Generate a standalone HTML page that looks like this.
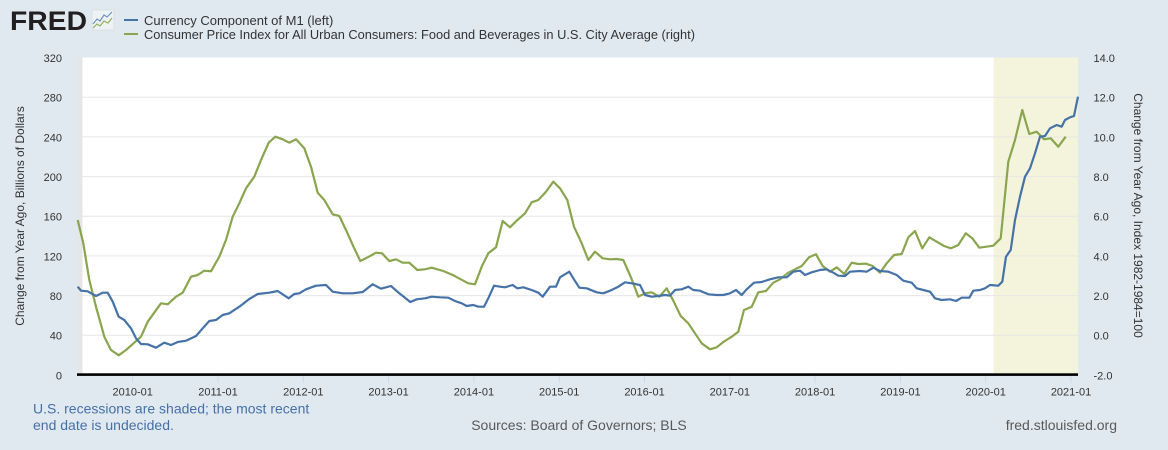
<!DOCTYPE html>
<html><head><meta charset="utf-8"><style>
html,body{margin:0;padding:0;background:#e1e9f0;}
svg{display:block;font-family:"Liberation Sans",Arial,sans-serif;}
</style></head><body>
<svg width="1168" height="450" viewBox="0 0 1168 450" xmlns="http://www.w3.org/2000/svg">
<rect x="0" y="0" width="1168" height="450" fill="#e1e9f0"/>
<!-- logo -->
<text x="10" y="30" font-size="27" font-weight="bold" fill="#231f20" textLength="77" lengthAdjust="spacingAndGlyphs">FRED</text>
<rect x="92" y="10" width="22" height="20" fill="#eef2f5" stroke="#c9d3dc" stroke-width="0.5"/>
<polyline points="93,24 97,19 100,21 104,15 107,17 112,12" fill="none" stroke="#6f95c3" stroke-width="1.2"/>
<polyline points="93,28 97,24 100,26 104,21 108,23 112,18" fill="none" stroke="#8fb05a" stroke-width="1.2"/>
<!-- legend -->
<line x1="124" y1="20" x2="138" y2="20" stroke="#4572a7" stroke-width="2"/>
<line x1="124" y1="34" x2="138" y2="34" stroke="#89a54e" stroke-width="2"/>
<text x="144" y="25" font-size="13" fill="#333">Currency Component of M1 (left)</text>
<text x="144" y="39" font-size="13" fill="#333" textLength="551" lengthAdjust="spacingAndGlyphs">Consumer Price Index for All Urban Consumers: Food and Beverages in U.S. City Average (right)</text>
<!-- plot area -->
<rect x="77" y="57.5" width="1001" height="317.5" fill="#ffffff"/>
<rect x="77" y="57.5" width="5.5" height="317.5" fill="#e6e6e6"/>
<rect x="993.5" y="57.5" width="84.5" height="317.5" fill="#f4f4dc"/>
<g stroke="#e6e6e6" stroke-width="1">
<line x1="77" y1="335.3" x2="1078" y2="335.3"/>
<line x1="77" y1="295.6" x2="1078" y2="295.6"/>
<line x1="77" y1="255.9" x2="1078" y2="255.9"/>
<line x1="77" y1="216.2" x2="1078" y2="216.2"/>
<line x1="77" y1="176.6" x2="1078" y2="176.6"/>
<line x1="77" y1="136.9" x2="1078" y2="136.9"/>
<line x1="77" y1="97.2" x2="1078" y2="97.2"/>
</g>
<!-- ticks -->
<g stroke="#ccd6eb" stroke-width="1">
<line x1="132.7" y1="375" x2="132.7" y2="383"/>
<line x1="218" y1="375" x2="218" y2="383"/>
<line x1="303.3" y1="375" x2="303.3" y2="383"/>
<line x1="388.6" y1="375" x2="388.6" y2="383"/>
<line x1="473.9" y1="375" x2="473.9" y2="383"/>
<line x1="559.2" y1="375" x2="559.2" y2="383"/>
<line x1="644.5" y1="375" x2="644.5" y2="383"/>
<line x1="729.8" y1="375" x2="729.8" y2="383"/>
<line x1="815.1" y1="375" x2="815.1" y2="383"/>
<line x1="900.4" y1="375" x2="900.4" y2="383"/>
<line x1="985.7" y1="375" x2="985.7" y2="383"/>
<line x1="1071" y1="375" x2="1071" y2="383"/>
</g>
<!-- series -->
<polyline fill="none" stroke="#89a54e" stroke-width="2.2" stroke-linejoin="round" points="77.7,220 83.3,243.3 89.3,280 96,306.7 104.3,336.7 111,350 118.7,355.3 126,350 141,336.7 147.7,321.7 161,303.3 167.7,304.3 176,296.7 182.7,292.7 191,276.7 197.7,275 204.3,270.7 211,271.3 219.3,256.7 226,240 232.7,216.7 239.3,203.3 246,188.3 254.3,176.7 261,160 268.7,142.7 275.3,136.7 282.7,139.3 289.3,142.7 296,139.3 304.3,148.3 311,166.7 317.7,192.7 324.3,200 332.7,214.3 339.3,216 346,230 352.7,245 360.3,261 367.7,257.3 376,252.7 382,253.3 389.3,261 396,259.3 402.7,262.7 409.3,262.7 417.3,270 425,269.3 431.7,267.7 443.3,271 453.3,275.3 468.3,283.3 475,284.3 481.7,266.7 488.3,253.3 496,247.3 502.7,221 510,227.3 516.7,220.7 525,213.3 531.7,202.3 538.3,200 546,191.7 553.3,181.7 560,188.3 567.3,200 574,226.7 581.7,243.3 588.3,260 595,251.7 602.7,258.3 610,259.3 616.7,259 623.3,260 630.7,276.7 638.3,296.7 645,293.3 651.7,292.3 659.3,296.7 666.7,288.3 673.3,300.7 680.7,316 688.3,323.3 695,333.3 701.7,343.3 710,349.3 716.7,347.3 723.3,342 731.7,336.7 738.3,331.7 744,310 751.7,306.7 758.3,292.3 766,291 773.3,282.7 780,279.3 788.3,272.7 801.7,266 809,257.3 816,254.3 822.7,266 830,271.7 836.7,267.3 844.3,274 851.7,262.7 858.3,264 866,263.7 872.7,266 880,272.7 886.7,263.3 894,255 901.7,254 908.3,237.3 915,231 922.3,248.3 929.3,237.3 936.7,241.7 944,246 951,248.3 958.3,245 965.7,233.3 972.3,238.3 979.3,247.7 993.3,245.7 1000.7,238.3 1008.3,161.7 1015,140 1022.3,110 1029.3,134 1036.7,131.7 1044,139.3 1050.7,138.3 1058.3,146.7 1065.7,136.7"/>
<polyline fill="none" stroke="#4572a7" stroke-width="2.2" stroke-linejoin="round" points="77.7,286.7 81,290.7 87.7,291.3 96,296 102.7,292.7 107.7,292.7 112.7,301.7 118.7,316.7 124.3,320 131,328.3 136,338.3 141,344 147.7,344.3 156,347.7 164.3,342.7 171,345 177.7,342 186,340.7 196,336 202.7,328.3 209.3,321 216,320 222.7,315 229.3,313.3 239.3,306.7 249.3,299 257.7,294 269.3,292.7 277.7,291 288.7,298.3 294.3,294 299.3,293.3 306,289.3 316,285.7 326,285 332.7,291.7 342.7,293.3 352.7,293.3 362.7,292 372.7,284.3 381,288.7 391,286 399.3,293.3 410.3,302 416.7,299.3 425,298.3 431.7,296.7 440,297.3 448.3,297.7 455,301 461.7,303.3 466.7,306 473.3,305 478.3,306.7 484,306.7 488.3,298.3 494,285.7 500,286.7 505,287.3 512.7,285 517.3,288.3 523.3,287.3 531.7,290 538.3,292.7 542.7,296.7 550,286.7 556,286.7 560,277.3 569.3,271.7 573.3,278.3 579.3,287.7 586.7,288.3 596.7,292.3 603.3,293.3 610,290.7 618.3,286.7 625,282.3 631.7,283.3 640,285 645,295 651.7,296.7 658.3,296 665,295 670,295.7 675,290 681.7,289.3 688.3,286.7 693.3,290 700,290.7 708.3,294.3 716.7,295 723.3,295 730,293.3 736,290 741.7,295 746.7,289.3 754,282.7 761.7,282 770,279.3 778.3,277.3 786.7,277.3 793.3,271.7 800,270.7 805,275 811.7,272.3 820,270 826.7,269.3 833.3,272.7 838.3,275.7 845,276 850,271.7 860,271 866.7,271.7 873.3,267.7 880,271 888.3,271.7 896.7,275 903.3,280.7 911.7,282.7 916.7,288.3 923.3,290 930,291.7 935,298.3 941.7,300 950,299.3 956,301 961.7,297.7 969.3,297.7 973.3,290.7 980,290 985,288.3 990,285 998.3,285.7 1002.3,281.7 1006,256.7 1010.7,250 1015,220 1020,196.7 1025,176.7 1030,168.3 1035,153.3 1040,136.7 1045,136 1050,128.3 1056.7,125 1061.7,126.7 1065,120 1070,117.3 1074,116 1078,96.7"/>
<!-- axis line -->
<rect x="77" y="373.3" width="1001" height="2.6" fill="#000"/>
<!-- left labels -->
<g font-size="11" fill="#333" text-anchor="end">
<text x="62" y="62">320</text>
<text x="62" y="101.5">280</text>
<text x="62" y="141.3">240</text>
<text x="62" y="181">200</text>
<text x="62" y="220.6">160</text>
<text x="62" y="260.3">120</text>
<text x="62" y="300">80</text>
<text x="62" y="339.7">40</text>
<text x="62" y="379.4">0</text>
</g>
<!-- right labels -->
<g font-size="11" fill="#333">
<text x="1093.5" y="62">14.0</text>
<text x="1093.5" y="101.5">12.0</text>
<text x="1093.5" y="141.3">10.0</text>
<text x="1093.5" y="181">8.0</text>
<text x="1093.5" y="220.6">6.0</text>
<text x="1093.5" y="260.3">4.0</text>
<text x="1093.5" y="300">2.0</text>
<text x="1093.5" y="339.7">0.0</text>
<text x="1093.5" y="379.4">-2.0</text>
</g>
<!-- x labels -->
<g font-size="11" fill="#333" text-anchor="middle">
<text x="132.7" y="395.5">2010-01</text>
<text x="218" y="395.5">2011-01</text>
<text x="303.3" y="395.5">2012-01</text>
<text x="388.6" y="395.5">2013-01</text>
<text x="473.9" y="395.5">2014-01</text>
<text x="559.2" y="395.5">2015-01</text>
<text x="644.5" y="395.5">2016-01</text>
<text x="729.8" y="395.5">2017-01</text>
<text x="815.1" y="395.5">2018-01</text>
<text x="900.4" y="395.5">2019-01</text>
<text x="985.7" y="395.5">2020-01</text>
<text x="1071" y="395.5">2021-01</text>
</g>
<!-- axis titles -->
<text transform="translate(24,216) rotate(-90)" font-size="12" fill="#333" text-anchor="middle">Change from Year Ago, Billions of Dollars</text>
<text transform="translate(1134,215.5) rotate(90)" font-size="12" fill="#333" text-anchor="middle">Change from Year Ago, Index 1982-1984=100</text>
<!-- footer -->
<text x="33" y="413.5" font-size="14" fill="#4570a8">U.S. recessions are shaded; the most recent</text>
<text x="33" y="430" font-size="14" fill="#4570a8">end date is undecided.</text>
<text x="579" y="430" font-size="14" fill="#595959" text-anchor="middle">Sources: Board of Governors; BLS</text>
<text x="1117" y="430" font-size="14" fill="#595959" text-anchor="end">fred.stlouisfed.org</text>
</svg>
</body></html>
